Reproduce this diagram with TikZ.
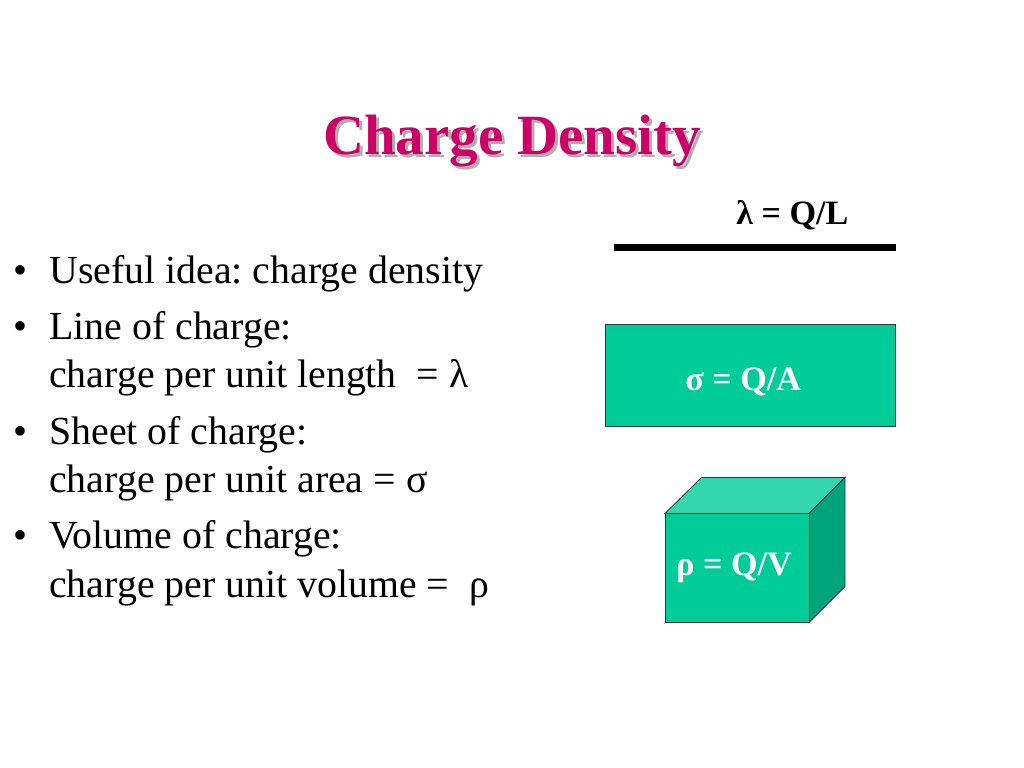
\documentclass[tikz,border=0pt]{standalone}
\usepackage{fontspec}
\setmainfont{Liberation Serif}
\frenchspacing
\definecolor{titlec}{RGB}{204,0,102}
\definecolor{shadowc}{RGB}{175,175,175}
\definecolor{sea}{RGB}{0,204,153}
\definecolor{seatop}{RGB}{51,214,173}
\definecolor{seaside}{RGB}{0,163,122}
\definecolor{edgec}{RGB}{40,60,55}
\begin{document}
\begin{tikzpicture}[x=0.703125pt,y=-0.703125pt,
  body/.style={anchor=base west,inner sep=0pt,font=\fontsize{28}{34}\selectfont},
  bul/.style={anchor=base west,inner sep=0pt,font=\fontsize{28}{34}\selectfont},
  formula/.style={anchor=base west,inner sep=0pt,font=\fontsize{24}{28}\selectfont\bfseries},
  titletext/.style={anchor=base,inner sep=0pt,font=\fontsize{40}{46}\selectfont\bfseries},
  facebox/.style={draw=edgec,line width=0.6pt,line join=miter}]
\useasboundingbox (0,0) rectangle (1024,768);
% title
\node[titletext,text=shadowc] (tshadow) at (515,158) {Charge Density};
\node[titletext,text=titlec] (title) at (512,155) {Charge Density};
% bullets
\node[bul] (d1) at (13,283) {•};
\node[body] (t1) at (49,283) {Useful idea: charge density};
\node[bul] (d2) at (13,339) {•};
\node[body] (t2a) at (49,339) {Line of charge:};
\node[body] (t2b) at (49,387) {charge per unit length\ \ = λ};
\node[bul] (d3) at (13,444) {•};
\node[body] (t3a) at (49,444) {Sheet of charge:};
\node[body] (t3b) at (49,492) {charge per unit area = σ};
\node[bul] (d4) at (13,548) {•};
\node[body] (t4a) at (49,548) {Volume of charge:};
\node[body] (t4b) at (49,597) {charge per unit volume =\ \ ρ};
% line of charge
\node[formula] (lam) at (736,225) {λ = Q/L};
\coordinate (l1) at (614,247.5);
\coordinate (l2) at (896,247.5);
\draw[line width=4.3pt] (l1) -- (l2);
% sheet
\coordinate (s1) at (605.5,324);
\coordinate (s2) at (895.5,426.5);
\draw[facebox,fill=sea] (s1) rectangle (s2);
\node[formula,text=white] (sig) at (685,390) {σ = Q/A};
% cube
\coordinate (fa) at (665,513.5);
\coordinate (fb) at (809,513.5);
\coordinate (fc) at (809,622.5);
\coordinate (fd) at (665,622.5);
\coordinate (ba) at (701.5,477.5);
\coordinate (bb) at (845,477.5);
\coordinate (bc) at (845,586.5);
\draw[facebox,fill=seatop] (fa) -- (ba) -- (bb) -- (fb) -- cycle;
\draw[facebox,fill=seaside] (fb) -- (bb) -- (bc) -- (fc) -- cycle;
\draw[facebox,fill=sea] (fa) rectangle (fc);
\node[formula,text=white] (rho) at (676,575) {ρ = Q/V};
\end{tikzpicture}
\end{document}
